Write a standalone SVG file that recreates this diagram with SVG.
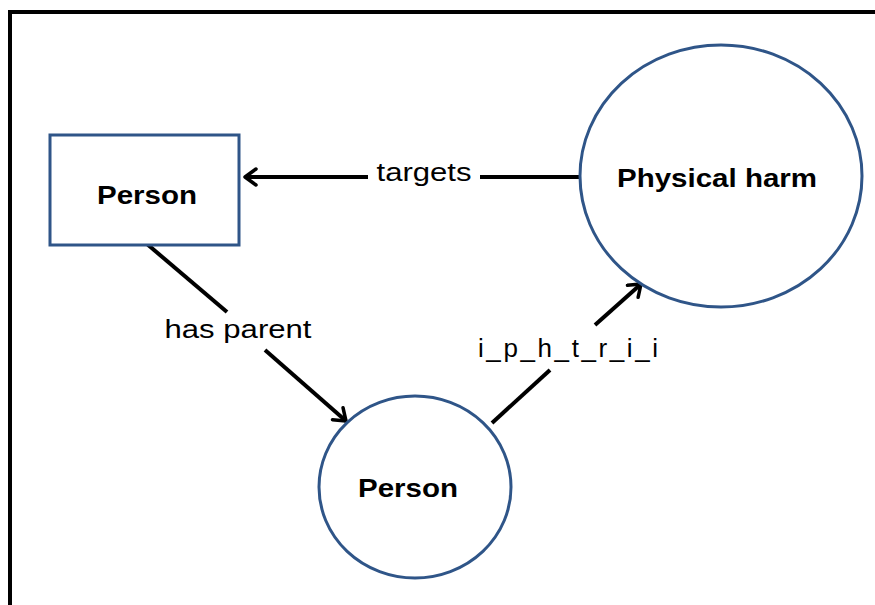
<svg xmlns="http://www.w3.org/2000/svg" width="875" height="605" viewBox="0 0 875 605">
<defs>
<style>
.node{fill:#fff;stroke:#2F5588;stroke-width:3}
.lbl{font-family:"Liberation Sans",Arial,sans-serif;font-size:26px;font-weight:bold;fill:#000;text-anchor:middle}
.elbl{font-family:"Liberation Sans",Arial,sans-serif;font-size:26px;fill:#000;text-anchor:middle}
.edge{stroke:#000;stroke-width:4;fill:none}
</style>
<marker id="arr" viewBox="0 0 20 20" refX="17" refY="10" markerWidth="5" markerHeight="5" markerUnits="strokeWidth" orient="auto">
<polyline points="6,2 17,10 6,18" fill="none" stroke="#000" stroke-width="3.5" stroke-linecap="round" stroke-linejoin="round"/>
</marker>
</defs>
<rect x="0" y="0" width="875" height="605" fill="#fff"/>
<rect x="10" y="12" width="900" height="620" fill="none" stroke="#000" stroke-width="4"/>
<g id="connectors">
<line class="edge" x1="368" y1="177" x2="245" y2="177" marker-end="url(#arr)"/>
<line class="edge" x1="580" y1="177" x2="480" y2="177"/>
<text class="elbl" x="424" y="181" textLength="95" lengthAdjust="spacingAndGlyphs">targets</text>
<line class="edge" x1="147" y1="244" x2="227" y2="312"/>
<line class="edge" x1="265" y1="350" x2="346" y2="421" marker-end="url(#arr)"/>
<text class="elbl" x="238" y="338" textLength="147" lengthAdjust="spacingAndGlyphs">has parent</text>
<line class="edge" x1="492" y1="423" x2="550" y2="370"/>
<line class="edge" x1="595" y1="325" x2="641" y2="284" marker-end="url(#arr)"/>
<text class="elbl" x="568" y="357" textLength="180" lengthAdjust="spacing">i_p_h_t_r_i_i</text>
</g>
<g id="node-person-rect">
<rect class="node" x="50" y="135" width="189" height="110"/>
<text class="lbl" x="147" y="204" textLength="100" lengthAdjust="spacingAndGlyphs">Person</text>
</g>
<g id="node-physical-harm">
<ellipse class="node" cx="721" cy="176" rx="141" ry="131"/>
<text class="lbl" x="717" y="187" textLength="200" lengthAdjust="spacingAndGlyphs">Physical harm</text>
</g>
<g id="node-person-circle">
<ellipse class="node" cx="415" cy="487" rx="96" ry="91"/>
<text class="lbl" x="408" y="497" textLength="100" lengthAdjust="spacingAndGlyphs">Person</text>
</g>
</svg>
